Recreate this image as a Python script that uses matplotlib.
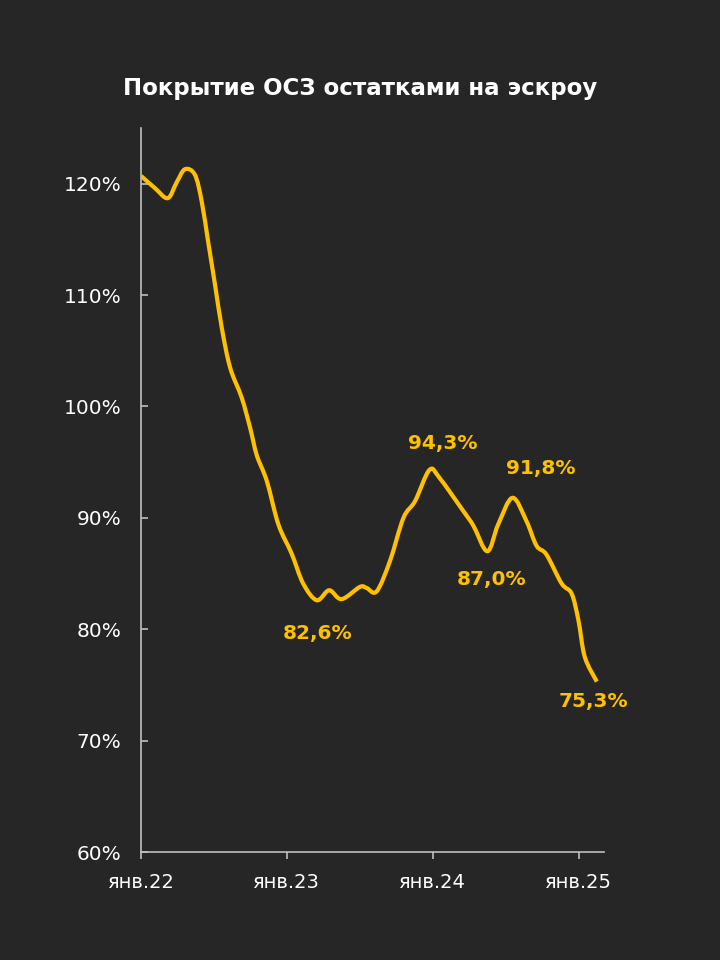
import pandas as pd
import numpy as np
import matplotlib
matplotlib.use('Agg')
import matplotlib.pyplot as plt
import matplotlib.dates as mdates
from matplotlib.path import Path
from matplotlib.patches import PathPatch

# values (coverage, %)
dates = ['2022-01-01', '2022-02-05', '2022-03-09', '2022-03-31', '2022-04-21',
         '2022-05-16', '2022-06-02', '2022-06-18', '2022-07-05', '2022-07-22',
         '2022-08-12', '2022-09-10', '2022-10-01', '2022-10-18', '2022-11-12',
         '2022-12-11', '2023-01-13', '2023-02-11', '2023-03-17', '2023-04-17',
         '2023-05-18', '2023-07-03', '2023-07-20', '2023-08-14', '2023-09-16',
         '2023-10-20', '2023-11-18', '2023-12-24', '2024-01-18', '2024-03-18',
         '2024-04-12', '2024-05-17', '2024-06-13', '2024-07-19', '2024-08-23',
         '2024-09-17', '2024-10-12', '2024-11-19', '2024-12-14', '2024-12-31',
         '2025-01-16', '2025-02-15']
coverage = [120.7, 119.6, 118.7, 120.1, 121.3,
            120.8, 118.4, 114.8, 111.0, 107.1,
            103.5, 100.8, 98.1, 95.6, 93.3,
            89.4, 86.8, 84.1, 82.6, 83.5,
            82.7, 83.8, 83.7, 83.4, 86.1,
            90.0, 91.5, 94.3, 93.6, 90.6,
            89.3, 87.0, 89.4, 91.8, 89.7,
            87.5, 86.7, 84.1, 83.2, 80.8,
            77.5, 75.3]

# which points get a value label
label_points = [18, 27, 31, 33, 41]

tick_dates = ['2022-01-01', '2023-01-01', '2024-01-01', '2025-01-01']
tick_labels = ['янв.22', 'янв.23', 'янв.24', 'янв.25']
y_ticks = [60, 70, 80, 90, 100, 110, 120]

bg = '#262626'
gold = '#FFC000'
axis_col = '#bfbfbf'

fig = plt.figure(figsize=(7.2, 9.6), dpi=100, facecolor=bg)
ax = fig.add_axes([141 / 720, 1 - 852 / 960, (604 - 141) / 720, (852 - 128) / 960])
ax.set_facecolor(bg)

x = mdates.date2num(pd.to_datetime(dates))
y = np.array(coverage)
pts = np.column_stack([x, y])

# smoothed line like excel: catmull-rom segments as cubic beziers
verts = [pts[0]]
codes = [Path.MOVETO]
n = len(pts)
for i in range(n - 1):
    p0 = pts[i - 1] if i > 0 else pts[i]
    p1 = pts[i]
    p2 = pts[i + 1]
    p3 = pts[i + 2] if i + 2 < n else pts[i + 1]
    verts += [p1 + (p2 - p0) / 6, p2 - (p3 - p1) / 6, p2]
    codes += [Path.CURVE4] * 3
ax.add_patch(PathPatch(Path(verts, codes), facecolor='none', edgecolor=gold,
                       lw=3, capstyle='butt', joinstyle='round'))

label_offsets = [(1, -33), (13, 26), (4, -28), (28, 29), (-3, -20)]
for idx, off in zip(label_points, label_offsets):
    ax.annotate(f'{coverage[idx]:.1f}%'.replace('.', ','), (x[idx], y[idx]),
                xytext=off, textcoords='offset pixels', ha='center', va='center',
                color=gold, fontsize=14.5, fontweight='bold')

ax.set_xlim(mdates.date2num(pd.Timestamp('2022-01-01')),
            mdates.date2num(pd.Timestamp('2025-03-05')))
ax.set_ylim(60, 125)
ax.set_yticks(y_ticks)
ax.set_yticklabels([f'{v}%' for v in y_ticks])
ax.set_xticks(mdates.date2num(pd.to_datetime(tick_dates)))
ax.set_xticklabels(tick_labels)

for s in ['top', 'right']:
    ax.spines[s].set_visible(False)
for s in ['left', 'bottom']:
    ax.spines[s].set_color(axis_col)
    ax.spines[s].set_linewidth(1.2)
ax.tick_params(axis='y', direction='in', length=5, width=1.2, color=axis_col,
               labelcolor='white', labelsize=14.5, pad=14)
ax.tick_params(axis='x', direction='out', length=5, width=1.2, color=axis_col,
               labelcolor='white', labelsize=14, pad=10)

fig.text(0.5, 1 - 88 / 960, 'Покрытие ОСЗ остатками на эскроу', ha='center',
         va='center', color='white', fontsize=16.5, fontweight='bold')

fig.savefig('out.png', dpi=100, facecolor=bg)
